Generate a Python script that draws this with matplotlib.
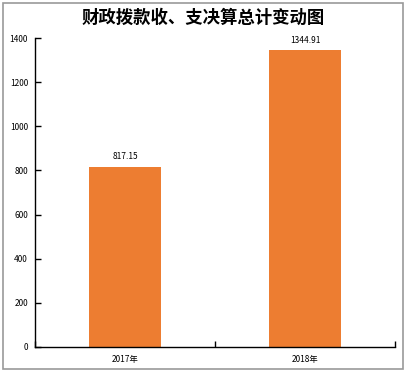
import matplotlib.pyplot as plt
from matplotlib.patches import Rectangle

plt.rcParams['font.family'] = ['Noto Sans CJK SC', 'DejaVu Sans']

title = '财政拨款收、支决算总计变动图'
years = ['2017年', '2018年']
totals = [817.15, 1344.91]
bar_color = '#ED7D31'

fig = plt.figure(figsize=(4.07, 3.86), dpi=100)
ax = fig.add_axes([35 / 407, 39 / 386, 360 / 407, 309 / 386])

x = range(len(years))
bars = ax.bar(x, totals, width=0.4, color=bar_color)
for rect, v in zip(bars, totals):
    ax.text(rect.get_x() + rect.get_width() / 2, v + 25, f'{v:.2f}',
            ha='center', va='bottom', fontsize=6)

ax.set_xlim(-0.5, 1.5)
ax.set_ylim(0, 1400)
ax.set_yticks(range(0, 1401, 200))
ax.set_xticks([-0.5, 0.5, 1.5], minor=False)
ax.set_xticklabels([])
ax.set_xticks(list(x), minor=True)
ax.set_xticklabels(years, minor=True, fontsize=6)
ax.tick_params(axis='x', which='major', direction='in', length=4, width=1)
ax.tick_params(axis='x', which='minor', length=0, pad=6)
ax.tick_params(axis='y', direction='in', length=4, width=1, labelsize=6, pad=5)

for side in ['top', 'right']:
    ax.spines[side].set_visible(False)
for side in ['left', 'bottom']:
    ax.spines[side].set_linewidth(1)

fig.text(0.5, 1 - 18 / 386, title, ha='center', va='center',
         fontsize=12.5, fontweight='bold')

fig.patches.append(Rectangle((3 / 407, 17 / 386), 400 / 407, 366 / 386,
                             transform=fig.transFigure, fill=False,
                             edgecolor='#999999', linewidth=1.2))

fig.savefig('out.png', dpi=100)
